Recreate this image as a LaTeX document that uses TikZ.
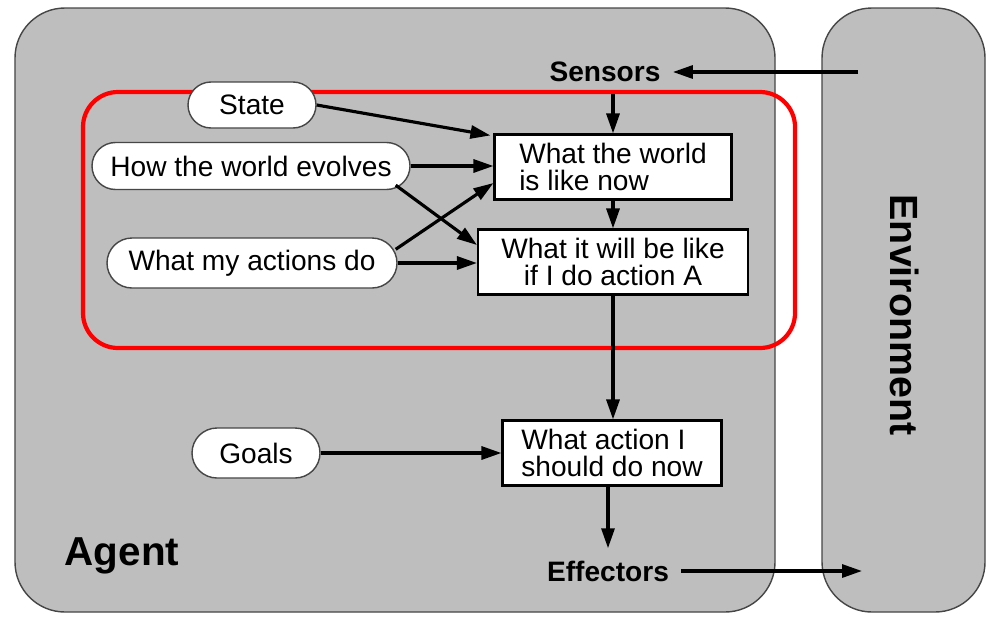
\documentclass[tikz,border=0pt]{standalone}
\usepackage{fontspec}
\setmainfont{Liberation Sans}
\usepackage{tikz}
\usepackage{xcolor}
\usetikzlibrary{calc,arrows.meta}

\definecolor{agentgray}{RGB}{190,190,190}
\definecolor{edgegray}{RGB}{70,70,70}

\begin{document}
\begin{tikzpicture}
        \useasboundingbox (0,0) rectangle (9.88,6.17);
        \tikzstyle{every node}=[font=\fontsize{8}{7.6}\selectfont]
        \tikzstyle{pill}=[draw=edgegray,fill=white,line width=0.4pt,inner sep=0pt]
        \tikzstyle{box}=[draw=black,fill=white,line width=0.6pt,minimum height=0.65cm,inner sep=0pt]
        \tikzstyle{flow}=[line width=0.9pt,-{Triangle[length=2mm,width=1.3mm]}]

        % agent and environment
        \draw[fill=agentgray,draw=edgegray,rounded corners=0.5cm] (0.15,0.05) rectangle (7.75,6.09);
        \draw[fill=agentgray,draw=edgegray,rounded corners=0.5cm] (8.22,0.05) rectangle (9.85,6.09);
        \node[rotate=-90,font=\fontsize{11.2}{12}\selectfont\bfseries] (env) at (9.05,3.02) {Environment};
        \node[font=\fontsize{11.5}{12}\selectfont\bfseries] (agent) at (1.22,0.61) {Agent};

        \draw[red,line width=1.2pt,rounded corners=0.35cm] (0.83,2.69) rectangle (7.95,5.25);

        \node[font=\fontsize{8}{8}\selectfont\bfseries] (sensors) at (6.05,5.45) {Sensors};
        \node[font=\fontsize{8}{8}\selectfont\bfseries] (effectors) at (6.08,0.46) {Effectors};
        \coordinate (envin) at (8.58,5.45);
        \coordinate (envout) at (8.62,0.46);

        \node[pill,minimum width=1.28cm,minimum height=0.46cm,rounded corners=0.23cm] (state) at (2.52,5.12) {State};
        \node[pill,minimum width=3.18cm,minimum height=0.47cm,rounded corners=0.235cm] (evolve) at (2.51,4.51) {How the world evolves};
        \node[pill,minimum width=2.90cm,minimum height=0.50cm,rounded corners=0.25cm] (actions) at (2.52,3.54) {What my actions do};
        \node[pill,minimum width=1.28cm,minimum height=0.50cm,rounded corners=0.25cm] (goals) at (2.56,1.64) {Goals};

        \node[box,minimum width=2.37cm,align=left] (now) at (6.13,4.50) {What the world\\is like now};
        \node[box,minimum width=2.70cm,align=center] (will) at (6.13,3.55) {What it will be like\\if I do action A};
        \node[box,minimum width=2.19cm,align=left] (action) at (6.12,1.64) {What action I\\should do now};

        \draw[flow] (envin) to (sensors.east);
        \draw[flow] (sensors.south -| now.north) to (now.north);
        \draw[flow] (state.east) to ($(now.north west)+(-0.03,-0.02)$);
        \draw[flow] (evolve.east) to (evolve.east -| now.west);
        \draw[flow] ($(evolve.south east)+(-0.15,0.05)$) to ($(will.west)+(0,0.17)$);
        \draw[flow] ($(actions.north east)+(-0.02,-0.12)$) to ($(now.west)+(0,-0.16)$);
        \draw[flow] (actions.east) to (actions.east -| will.west);
        \draw[flow] (now.south) to (will.north);
        \draw[flow] (will.south) to (will.south |- action.north);
        \draw[flow] (goals.east) to (action.west);
        \draw[flow] (action.south -| effectors.north) to (effectors.north);
        \draw[flow] (effectors.east) to (envout);
    \end{tikzpicture}
\end{document}
